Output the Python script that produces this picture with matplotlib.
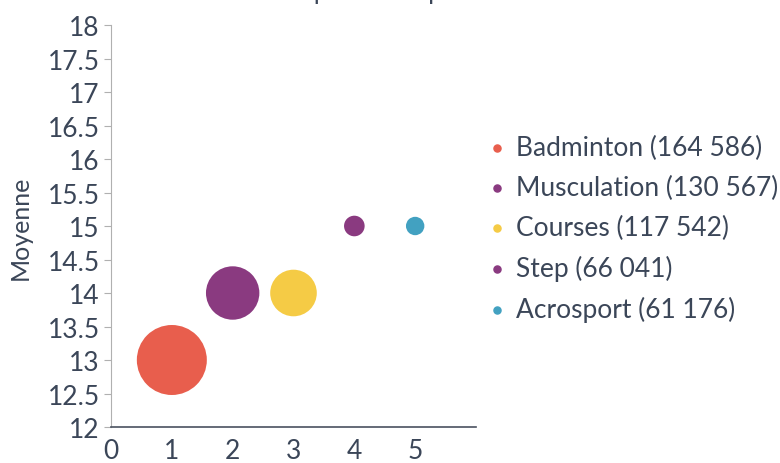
import numpy as np
import matplotlib.pyplot as plt

plt.rcParams['font.family'] = ['Lato', 'DejaVu Sans']

# Data
sports = ['Badminton', 'Musculation', 'Courses', 'Step', 'Acrosport']
effectifs = ['164 586', '130 567', '117 542', '66 041', '61 176']
x_vals = [1, 2, 3, 4, 5]
moyennes = [13, 14, 14, 15, 15]
rayons_px = [35, 26.7, 23.3, 10.3, 9.2]
couleurs = ['#E85E4D', '#8A3A80', '#F5CB45', '#8A3A80', '#42A1C1']
y_ticks = ['12', '12.5', '13', '13.5', '14', '14.5', '15', '15.5',
           '16', '16.5', '17', '17.5', '18']

TEXT = '#3B4658'

fig = plt.figure(figsize=(7.8, 4.64), dpi=100)
ax = fig.add_axes([111 / 780, 36 / 464, 365 / 780, 402 / 464])

# bubble size: radius in px -> area in points^2
sizes = [(2 * r * 72 / 100) ** 2 for r in rayons_px]
for xv, yv, s, c, nom, n in zip(x_vals, moyennes, sizes, couleurs, sports, effectifs):
    ax.scatter(xv, yv, s=s, color=c, edgecolors='none', zorder=3)
    ax.scatter([], [], s=26, color=c, label=f'{nom} ({n})')

ax.set_xlim(0, 6)
ax.set_ylim(12, 18)
ax.set_xticks([0, 1, 2, 3, 4, 5])
ax.set_yticks(np.arange(12, 18.01, 0.5))
ax.set_yticklabels(y_ticks)
ax.tick_params(axis='y', length=5, width=0.8, color='#B0B0B0', labelsize=19,
               labelcolor=TEXT, pad=3)
ax.tick_params(axis='x', length=0, labelsize=19, labelcolor=TEXT, pad=8)

for side in ['top', 'right']:
    ax.spines[side].set_visible(False)
ax.spines['left'].set_color('#B0B0B0')
ax.spines['left'].set_linewidth(0.8)
ax.spines['bottom'].set_color('#4A5260')
ax.spines['bottom'].set_linewidth(1.2)

ax.set_ylabel('Moyenne', fontsize=18, color=TEXT)
ax.yaxis.set_label_coords(32 / 780, 236 / 464, transform=fig.transFigure)

leg = ax.legend(loc='center left', bbox_to_anchor=(489 / 780, 234.5 / 464),
                bbox_transform=fig.transFigure, frameon=False,
                fontsize=19, labelcolor=TEXT, handletextpad=0.42,
                labelspacing=0.56, handlelength=0.6, borderpad=0,
                borderaxespad=0)

# titre coupé en haut de l'image
fig.text(0.5, 1 - 0.5 / 464, 'Top 5 - inscriptions', ha='center', va='baseline',
         fontsize=18, color=TEXT)

fig.savefig('out.png', dpi=100)
